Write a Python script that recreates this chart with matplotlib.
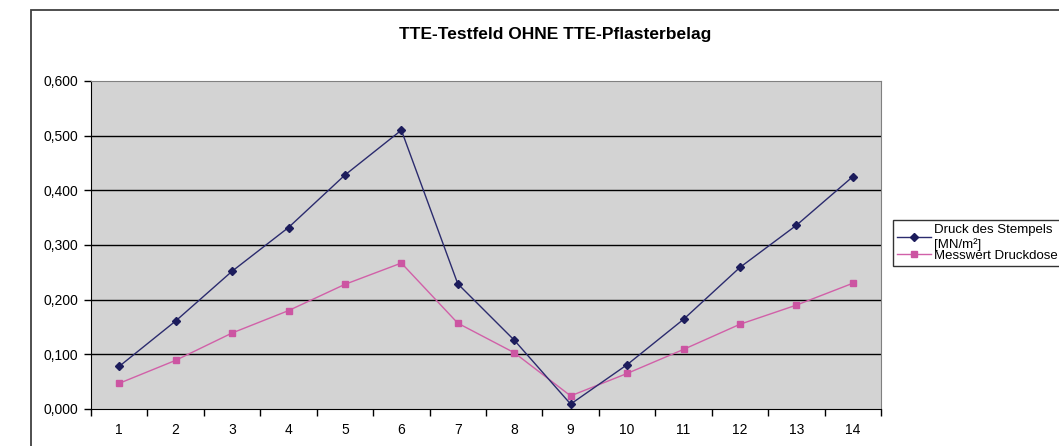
import matplotlib.pyplot as plt
from matplotlib.patches import Rectangle
import numpy as np

plt.rcParams['font.family'] = ['Liberation Sans', 'DejaVu Sans']

categories = ['1', '2', '3', '4', '5', '6', '7', '8', '9', '10', '11', '12', '13', '14']
druck_stempel = [0.078, 0.161, 0.252, 0.332, 0.428, 0.510, 0.229,
                 0.126, 0.009, 0.081, 0.164, 0.259, 0.336, 0.425]
messwert_dose = [0.047, 0.089, 0.139, 0.180, 0.228, 0.267, 0.157,
                 0.103, 0.024, 0.065, 0.109, 0.155, 0.190, 0.230]
y_ticks = [0.0, 0.1, 0.2, 0.3, 0.4, 0.5, 0.6]

W, H = 1059, 446
fig = plt.figure(figsize=(W / 100, H / 100), dpi=100)

# outer chart frame (cut off on the right and bottom like the screenshot)
fig.patches.append(Rectangle((31 / W, -0.2), 1.2, 1.2 - 10 / H, transform=fig.transFigure,
                             fill=False, edgecolor='#404040', linewidth=1.3))

ax = fig.add_axes([91 / W, 1 - 409 / H, 790 / W, 328 / H])
ax.set_facecolor('#d3d3d3')

x = np.arange(1, len(categories) + 1)
ax.plot(x, druck_stempel, color='#2b2b6e', linewidth=1.0, marker='D', markersize=4.5,
        markerfacecolor='#1c1c5c', markeredgecolor='#1c1c5c', label='Druck des Stempels\n[MN/m²]', zorder=4)
ax.plot(x, messwert_dose, color='#d160a8', linewidth=1.0, marker='s', markersize=5,
        markerfacecolor='#cc55a2', markeredgecolor='#cc55a2', label='Messwert Druckdose', zorder=3)

ax.set_xlim(0.5, len(categories) + 0.5)
ax.set_ylim(0, 0.6)
ax.set_yticks(y_ticks)
ax.set_yticklabels([f'{v:.3f}'.replace('.', ',') for v in y_ticks], fontsize=10)
for v in y_ticks[1:-1]:
    ax.axhline(v, color='black', linewidth=1.0, zorder=1)

# category ticks sit on the boundaries, labels in between
ax.set_xticks(np.arange(0.5, len(categories) + 1, 1.0))
ax.set_xticklabels([])
ax.set_xticks(x, minor=True)
ax.set_xticklabels(categories, minor=True, fontsize=10)
ax.tick_params(axis='x', which='major', length=5, width=1, color='black', direction='out')
ax.tick_params(axis='x', which='minor', length=0, pad=10)
ax.tick_params(axis='y', length=5, width=1, color='black', direction='out', pad=4)

ax.spines['left'].set_color('black')
ax.spines['bottom'].set_color('black')
ax.spines['top'].set_color('#808080')
ax.spines['right'].set_color('#808080')

fig.text(555 / W, 1 - 35 / H, 'TTE-Testfeld OHNE TTE-Pflasterbelag', ha='center', va='center',
         fontsize=12.5, fontweight='bold')

leg = fig.legend(loc='upper left', bbox_to_anchor=(893 / W, 1 - 220 / H), fontsize=9.5,
                 frameon=True, fancybox=False, edgecolor='black', borderpad=0.3,
                 labelspacing=-0.1, handlelength=2.6, handletextpad=0.2, borderaxespad=0)
leg.get_frame().set_linewidth(1.0)

fig.savefig('out.png', dpi=100)
